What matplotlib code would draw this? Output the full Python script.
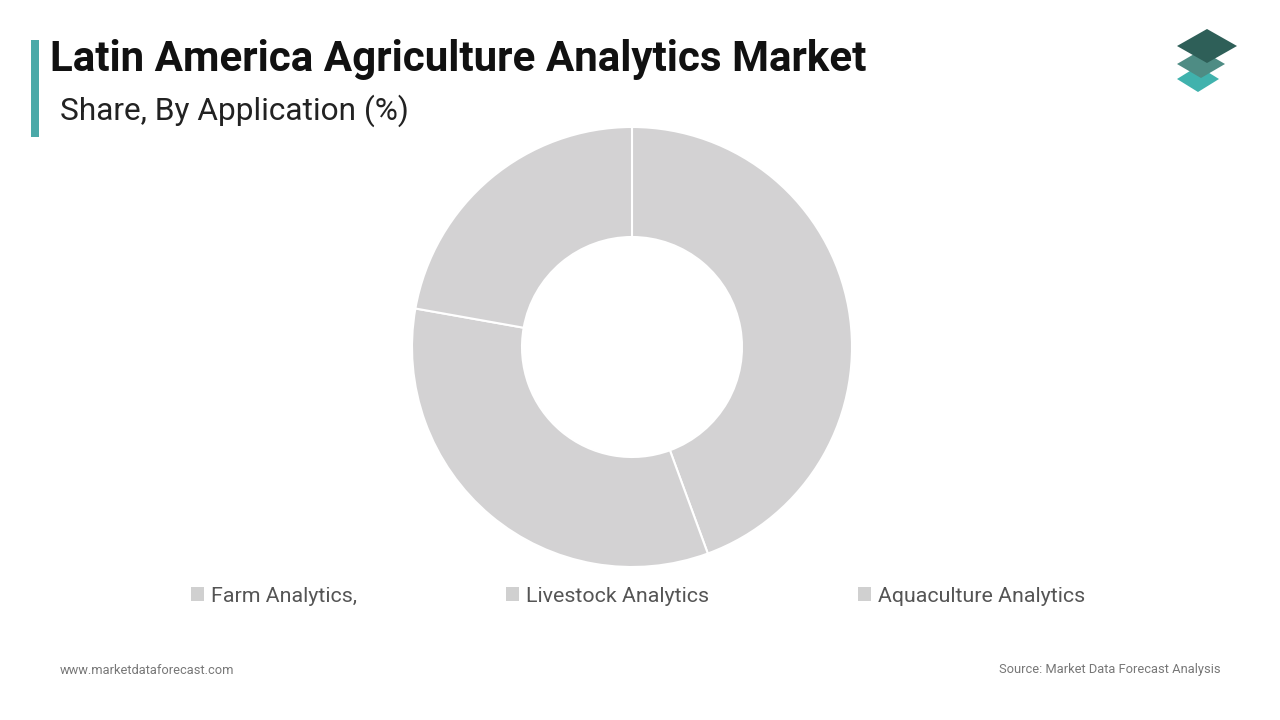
import matplotlib
matplotlib.use("Agg")
import matplotlib.pyplot as plt
from matplotlib.patches import Polygon, Patch, Rectangle

plt.rcParams['font.family'] = ['Roboto', 'DejaVu Sans']

title = "Latin America Agriculture Analytics Market"
subtitle = "Share, By Application (%)"
categories = ["Farm Analytics,", "Livestock Analytics", "Aquaculture Analytics"]
shares = [44.4, 33.4, 22.2]
slice_colors = ["#d3d2d3", "#d3d2d3", "#d3d2d3"]
legend_colors = ["#d0d0d0", "#d0d0d0", "#d0d0d0"]
footer_left = "www.marketdataforecast.com"
footer_right = "Source: Market Data Forecast Analysis"

W, H = 1280, 720
fig = plt.figure(figsize=(W / 100, H / 100), dpi=100)
fig.patch.set_facecolor("white")

def fx(x):
    return x / W

def fy(y):
    return 1 - y / H

# accent bar
fig.add_artist(Rectangle((fx(31), fy(137)), fx(8), (137 - 40) / H,
                         transform=fig.transFigure, color="#4aa9a8", lw=0))

fig.text(fx(50), fy(59), title, fontsize=30.3, fontweight="bold", color="#111111",
         va="center", ha="left")
fig.text(fx(60), fy(111), subtitle, fontsize=22.8, color="#222222",
         va="center", ha="left")

# logo (three stacked rhombi)
def rhombus(cx, cy, hw, hh, color):
    pts = [(cx - hw, cy), (cx, cy - hh), (cx + hw, cy), (cx, cy + hh)]
    fig.add_artist(Polygon([(fx(px), fy(py)) for px, py in pts], closed=True,
                           transform=fig.transFigure, facecolor=color,
                           edgecolor="none"))

rhombus(1198, 79, 21, 13, "#40b2ad")
rhombus(1201, 64, 24, 14, "#4e8c84")
rhombus(1207, 46, 30, 17, "#2e5f58")

# donut
cx, cy, r = 632, 347, 220
ax = fig.add_axes([fx(cx - r), fy(cy + r), 2 * r / W, 2 * r / H])
ax.pie(shares, colors=slice_colors, startangle=90, counterclock=False,
       radius=1.0, wedgeprops=dict(width=0.5, edgecolor="white", linewidth=1.5))
ax.set_xlim(-1.0, 1.0)
ax.set_ylim(-1.0, 1.0)
ax.set_aspect("equal")
ax.axis("off")

handles = [Patch(facecolor=c, edgecolor="none") for c in legend_colors]
leg = fig.legend(handles, categories, loc="center", bbox_to_anchor=(fx(638), fy(596)),
                 ncol=3, frameon=False, fontsize=15.4, handlelength=0.6,
                 handleheight=0.6, handletextpad=0.3, columnspacing=7.0,
                 labelcolor="#555555")

fig.text(fx(60), fy(670), footer_left, fontsize=9.3, color="#777777",
         va="center", ha="left")
fig.text(fx(1221), fy(670), footer_right, fontsize=9.3, color="#777777",
         va="center", ha="right")

fig.savefig("out.png", dpi=100, facecolor="white")
